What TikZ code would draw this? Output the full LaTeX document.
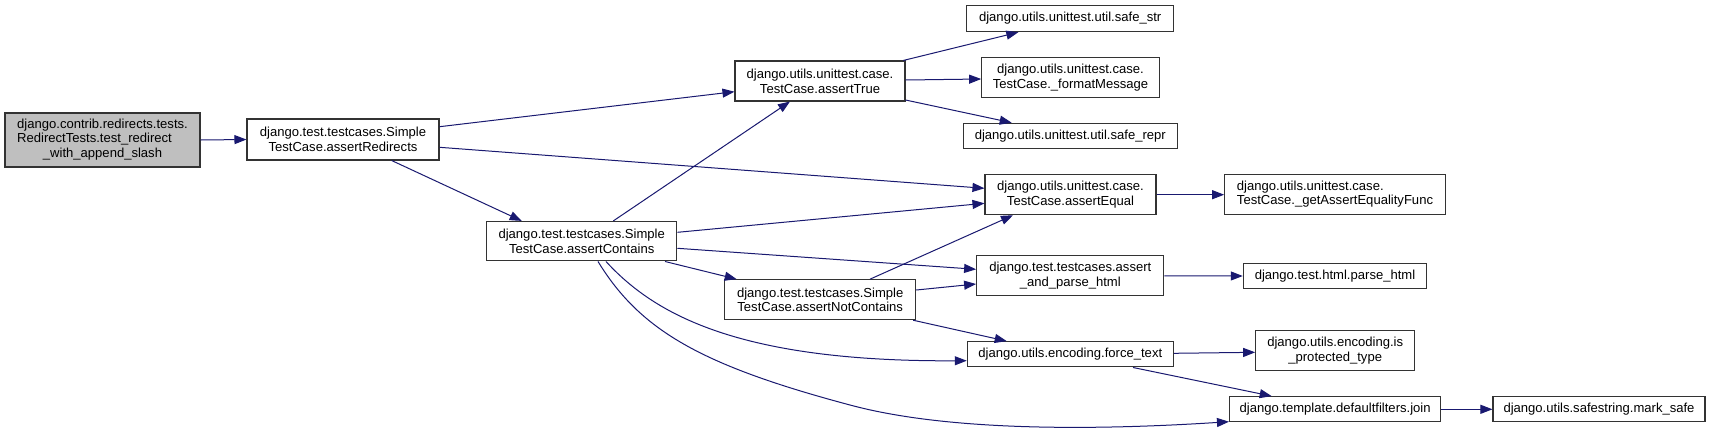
\documentclass[tikz,border=0pt]{standalone}
\usepackage{fontspec}
\setmainfont{Liberation Sans}
\usetikzlibrary{arrows.meta,calc}
\definecolor{edgecol}{HTML}{191970}
\definecolor{rootfill}{HTML}{BFBFBF}
\tikzset{
  box/.style={draw=black!80, line width=0.8pt, fill=white, inner sep=0pt, align=center,
    font=\fontsize{9.8}{11}\selectfont},
  bw/.style={minimum width={#1*0.75pt}},
  bh/.style={minimum height={#1*0.75pt}},
  edge/.style={draw=edgecol, line width=0.75pt, -{Triangle[length=9pt,width=6.75pt]}}
}
\begin{document}
\begin{tikzpicture}[x=0.75pt,y=-0.75pt]
\useasboundingbox (0,0) rectangle (1711,433);
\fill[white] (0,0) rectangle (1711,433);
% nodes
\node[box,fill=rootfill,bw=195,bh=54] (root) at (102.5,140) {\begin{tabular}{@{}l@{}}django.contrib.redirects.tests.\\RedirectTests.test\_redirect\\\multicolumn{1}{@{}c@{}}{\_with\_append\_slash}\end{tabular}};
\node[box,bw=192,bh=41] (AR) at (343,139.5) {django.test.testcases.Simple\\TestCase.assertRedirects};
\node[box,bw=170,bh=40] (AT) at (820,81) {django.utils.unittest.case.\\TestCase.assertTrue};
\node[box,bw=190.5,bh=39.5] (AC) at (581.7,241.2) {django.test.testcases.Simple\\TestCase.assertContains};
\node[box,bw=191,bh=40] (ANC) at (820.2,299.7) {django.test.testcases.Simple\\TestCase.assertNotContains};
\node[box,bw=207,bh=26.4] (SS) at (1070.2,18.5) {django.utils.unittest.util.safe\_str};
\node[box,bw=177.6,bh=40] (FM) at (1070.5,77.3) {django.utils.unittest.case.\\TestCase.\_formatMessage};
\node[box,bw=213.7,bh=25.5] (SR) at (1070.3,136) {django.utils.unittest.util.safe\_repr};
\node[box,bw=171,bh=40] (AE) at (1070.5,194.7) {django.utils.unittest.case.\\TestCase.assertEqual};
\node[box,bw=187.3,bh=40.3] (AAP) at (1070.3,275.8) {django.test.testcases.assert\\\_and\_parse\_html};
\node[box,bw=206,bh=25.3] (FT) at (1070.3,354.3) {django.utils.encoding.force\_text};
\node[box,bw=220.6,bh=40] (GAEF) at (1335,194.7) {\begin{tabular}{@{}l@{}}django.utils.unittest.case.\\TestCase.\_getAssertEqualityFunc\end{tabular}};
\node[box,bw=183.4,bh=25.4] (PH) at (1335,276) {django.test.html.parse\_html};
\node[box,bw=159,bh=40] (IPT) at (1335.2,350.5) {django.utils.encoding.is\\\_protected\_type};
\node[box,bw=211.2,bh=25.3] (JOIN) at (1335.1,409.3) {django.template.defaultfilters.join};
\node[box,bw=212,bh=25.3] (MS) at (1599,409.3) {django.utils.safestring.mark\_safe};
% edges
\draw[edge] (root.east) -- (AR.west);
\draw[edge] ($(AR.east)+(0,-12.8)$) -- ($(AT.west)+(0,10.7)$);
\draw[edge] ($(AR.east)+(0,7.8)$) -- ($(AE.west)+(0,-6.4)$);
\draw[edge] ($(AR.south)+(48.7,0)$) -- ($(AC.north)+(-60,0)$);
\draw[edge] ($(AC.north)+(31.6,0)$) -- ($(AT.south)+(-30,0)$);
\draw[edge] ($(AC.east)+(0,-8.9)$) -- ($(AE.west)+(0,8.6)$);
\draw[edge] ($(AC.east)+(0,7.1)$) -- ($(AAP.west)+(0,-6.5)$);
\draw[edge] ($(AC.south)+(83.3,0)$) -- ($(ANC.north)+(-83.5,0)$);
\draw[edge] ($(AC.south)+(24.3,0)$) .. controls (655,315) and (740,362) .. ($(FT.west)+(0,6.4)$);
\draw[edge] ($(AC.south)+(16.3,0)$) .. controls (640,330) and (700,365) .. (850,405) .. controls (950,432) and (1100,430) .. ($(JOIN.west)+(0,12.4)$);
\draw[edge] ($(ANC.north)+(49.8,0)$) -- ($(AE.south)+(-57.5,0)$);
\draw[edge] ($(ANC.east)+(0,-9.7)$) -- ($(AAP.west)+(0,8.2)$);
\draw[edge] ($(ANC.south)+(93,0)$) -- ($(FT.north)+(-63.6,0)$);
\draw[edge] ($(AT.north)+(83.3,0)$) -- ($(SS.south)+(-51.9,0)$);
\draw[edge] ($(AT.east)+(0,-1)$) -- ($(FM.west)+(0,1.7)$);
\draw[edge] ($(AT.east)+(0,19)$) -- ($(SR.north)+(-58.6,0)$);
\draw[edge] (AE.east) -- (GAEF.west);
\draw[edge] (AAP.east) -- (PH.west);
\draw[edge] ($(FT.east)+(0,-1)$) -- ($(IPT.west)+(0,1.8)$);
\draw[edge] ($(FT.south)+(62.7,0)$) -- ($(JOIN.north)+(-63.4,0)$);
\draw[edge] (JOIN.east) -- (MS.west);
\end{tikzpicture}
\end{document}
